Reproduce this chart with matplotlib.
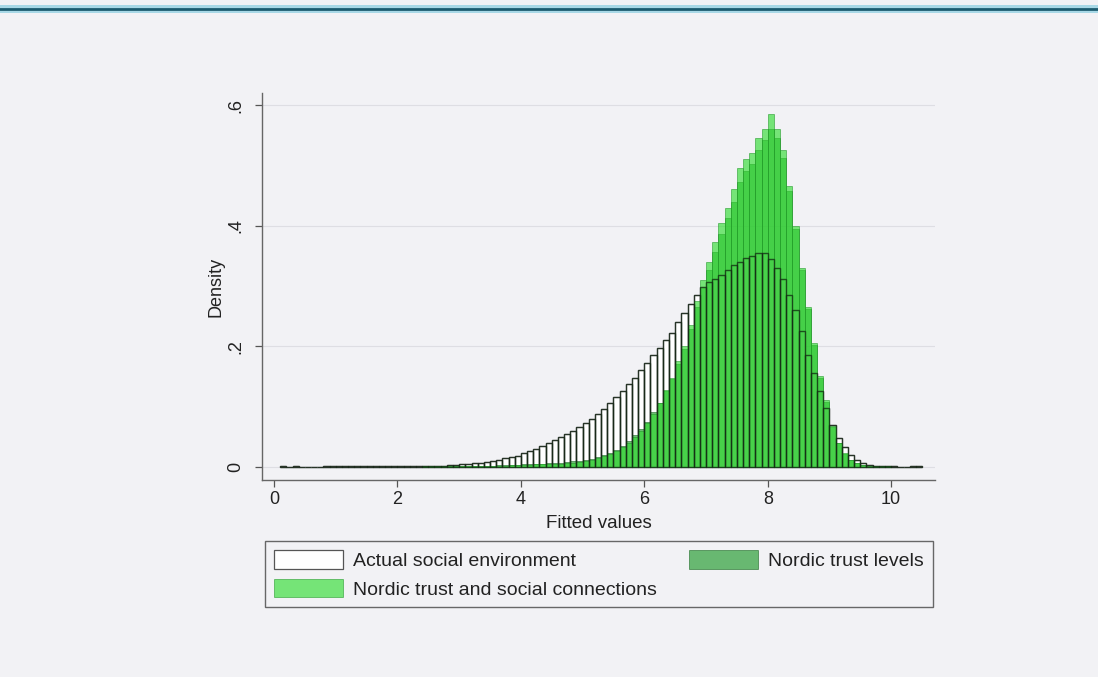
import numpy as np
import matplotlib.pyplot as plt
from matplotlib.patches import Patch, Rectangle
from matplotlib.lines import Line2D

plt.rcParams['font.family'] = ['Liberation Sans', 'DejaVu Sans']

# histogram bins are 0.1 wide; each series lists its densities from its first bin
bin_width = 0.1

actual_start = 0.1
actual_density = [
    0.001, 0.0, 0.001, 0.0, 0.0, 0.0, 0.0, 0.001, 0.001,
    0.001, 0.001, 0.001, 0.001, 0.001, 0.001, 0.001, 0.001, 0.001, 0.001,
    0.001, 0.001, 0.001, 0.001, 0.001, 0.002, 0.002, 0.002, 0.003, 0.003,
    0.004, 0.005, 0.006, 0.007, 0.008, 0.010, 0.012, 0.014, 0.016, 0.018,
    0.022, 0.026, 0.030, 0.035, 0.040, 0.045, 0.050, 0.055, 0.060, 0.066,
    0.073, 0.080, 0.088, 0.096, 0.105, 0.115, 0.125, 0.137, 0.148, 0.160,
    0.172, 0.185, 0.197, 0.210, 0.222, 0.240, 0.255, 0.270, 0.285, 0.298,
    0.306, 0.312, 0.318, 0.326, 0.335, 0.340, 0.346, 0.350, 0.355, 0.354,
    0.345, 0.330, 0.312, 0.285, 0.260, 0.225, 0.185, 0.155, 0.125, 0.097,
    0.070, 0.048, 0.032, 0.020, 0.011, 0.006, 0.003, 0.002, 0.001, 0.001,
    0.001, 0.0, 0.0, 0.001, 0.001,
]

levels_start = 2.4
levels_density = [
    0.0005, 0.0005, 0.001, 0.001, 0.001, 0.001,
    0.001, 0.001, 0.002, 0.002, 0.002, 0.002, 0.003, 0.003, 0.003, 0.003,
    0.004, 0.004, 0.005, 0.005, 0.006, 0.006, 0.007, 0.008, 0.009, 0.010,
    0.011, 0.013, 0.016, 0.019, 0.023, 0.028, 0.034, 0.042, 0.052, 0.062,
    0.074, 0.090, 0.106, 0.126, 0.146, 0.170, 0.195, 0.228, 0.265, 0.298,
    0.326, 0.356, 0.386, 0.412, 0.440, 0.472, 0.490, 0.502, 0.526, 0.542,
    0.560, 0.545, 0.512, 0.458, 0.394, 0.326, 0.262, 0.202, 0.148, 0.108,
    0.066, 0.039, 0.021, 0.011, 0.006, 0.003, 0.001, 0.001, 0.0005, 0.0005,
]

social_start = 2.4
social_density = [
    0.0005, 0.0005, 0.001, 0.001, 0.001, 0.001,
    0.001, 0.001, 0.001, 0.002, 0.002, 0.002, 0.002, 0.002, 0.003, 0.003,
    0.003, 0.003, 0.004, 0.004, 0.004, 0.005, 0.005, 0.006, 0.007, 0.008,
    0.009, 0.011, 0.014, 0.017, 0.021, 0.026, 0.032, 0.040, 0.050, 0.060,
    0.072, 0.088, 0.105, 0.127, 0.148, 0.175, 0.200, 0.235, 0.275, 0.310,
    0.340, 0.372, 0.405, 0.430, 0.460, 0.495, 0.510, 0.520, 0.545, 0.560,
    0.585, 0.560, 0.525, 0.465, 0.400, 0.330, 0.265, 0.205, 0.150, 0.110,
    0.068, 0.040, 0.022, 0.012, 0.006, 0.003, 0.001, 0.001, 0.0005, 0.0005,
]

labels = ["Actual social environment", "Nordic trust levels",
          "Nordic trust and social connections"]
x_ticks = [0, 2, 4, 6, 8, 10]
y_ticks = [0, 0.2, 0.4, 0.6]
y_ticklabels = ["0", ".2", ".4", ".6"]

bg = '#f2f2f5'
levels_color = '#1f9a2a'
social_color = '#33dd33'
green_alpha = 0.65


def bin_lefts(start, values):
    return start + bin_width * np.arange(len(values))


fig = plt.figure(figsize=(10.98, 6.77), dpi=100, facecolor=bg)

# blue rule across the top of the page
fig.patches.append(Rectangle((0, 1 - 13 / 677), 1, 8 / 677, transform=fig.transFigure,
                             facecolor='#a8d8e6', edgecolor='none'))
fig.lines.append(Line2D([0, 1], [1 - 9 / 677, 1 - 9 / 677], transform=fig.transFigure,
                        color='#1d5c70', lw=2))

ax = fig.add_axes([262 / 1098, 1 - 480 / 677, 673 / 1098, 387 / 677])
ax.set_facecolor(bg)

xa = bin_lefts(actual_start, actual_density)
xl = bin_lefts(levels_start, levels_density)
xs = bin_lefts(social_start, social_density)

ax.bar(xa, actual_density, width=bin_width, align='edge', color='white',
       edgecolor='#555555', linewidth=0.9, zorder=2)
ax.bar(xl, levels_density, width=bin_width, align='edge', color=levels_color,
       alpha=green_alpha, edgecolor='#17661f', linewidth=0.6, zorder=3)
ax.bar(xs, social_density, width=bin_width, align='edge', color=social_color,
       alpha=green_alpha, edgecolor='#239a2a', linewidth=0.6, zorder=4)
# outlines of the actual bars show through the green
ax.bar(xa, actual_density, width=bin_width, align='edge', color='none',
       edgecolor='#142614', linewidth=1.0, alpha=0.7, zorder=5)

ax.set_xlim(-0.195, 10.71)
ax.set_ylim(-0.022, 0.62)
ax.set_xticks(x_ticks)
ax.set_yticks(y_ticks)
ax.set_yticklabels(y_ticklabels, rotation=90, va='center')
ax.tick_params(colors='#555555', labelcolor='#222222', labelsize=13,
               length=5, width=0.9, direction='out')
ax.tick_params(axis='y', pad=8)
ax.tick_params(axis='x', pad=3)
ax.grid(axis='y', color='#dedee3', linewidth=0.8, zorder=0)
ax.set_axisbelow(True)
for side in ['top', 'right']:
    ax.spines[side].set_visible(False)
for side in ['left', 'bottom']:
    ax.spines[side].set_color('#666666')
    ax.spines[side].set_linewidth(1.0)

ax.set_xlabel("Fitted values", fontsize=13.5, color='#222222', labelpad=5)
ax.set_ylabel("Density", fontsize=13, color='#222222', labelpad=2)

handles = [
    Patch(facecolor='white', edgecolor='#555555', linewidth=0.9),
    Patch(facecolor=social_color, alpha=green_alpha, edgecolor='#239a2a', linewidth=0.6),
    Patch(facecolor=levels_color, alpha=green_alpha, edgecolor='#17661f', linewidth=0.6),
]
leg = ax.legend(handles, [labels[0], labels[2], labels[1]], ncol=2,
                loc='upper left', mode='expand',
                bbox_to_anchor=(265 / 1098, 1 - 542 / 677, 668 / 1098, 0.001),
                bbox_transform=fig.transFigure, borderaxespad=0,
                fontsize=14, frameon=True, fancybox=False,
                handlelength=3.55, handleheight=1.1, handletextpad=0.55,
                labelspacing=0.45, borderpad=0.45)
leg.get_frame().set_edgecolor('#444444')
leg.get_frame().set_linewidth(1.0)
leg.get_frame().set_facecolor(bg)
for t in leg.get_texts():
    t.set_color('#222222')

fig.savefig('out.png', dpi=100, facecolor=bg)
